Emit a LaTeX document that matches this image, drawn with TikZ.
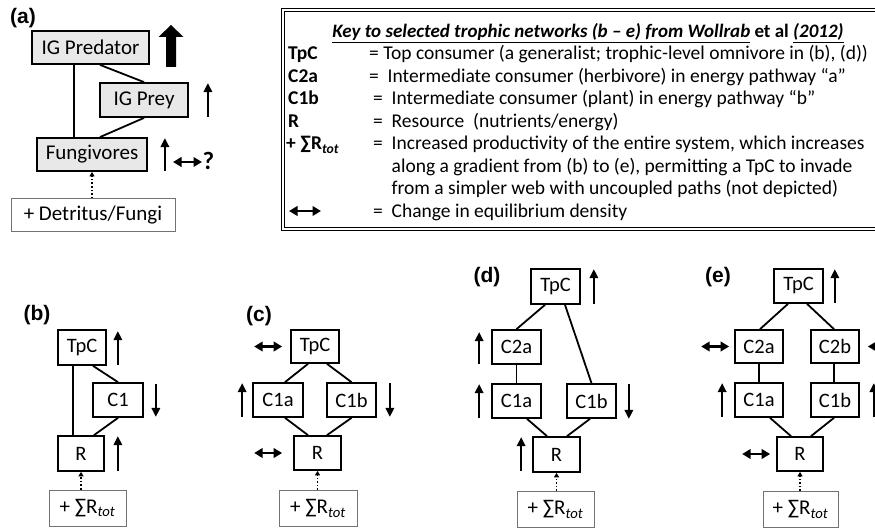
\documentclass[tikz,border=0pt]{standalone}
\usepackage{fontspec}
\setmainfont{Carlito}
\newfontfamily\panelfont{Liberation Sans}
\usetikzlibrary{arrows.meta}
\newcommand{\fsz}[1]{\fontsize{#1}{#1}\selectfont}
\newcommand{\sumR}{+ ∑R\textsubscript{\itshape tot}}
\newcommand{\sumRb}{\textbf{+ ∑R\textsubscript{\itshape tot}}}

\begin{document}
\begin{tikzpicture}[x=1pt,y=-1pt,
  gbox/.style={draw, line width=1.8pt, fill=black!9, inner sep=0pt, font=\fsz{21}},
  wbox/.style={draw, line width=1.7pt, fill=white, inner sep=0pt, minimum height=34pt, font=\fsz{20.5}},
  sbox/.style={draw=black!55, line width=1pt, fill=white, inner sep=0pt, minimum height=36pt, font=\fsz{21}},
  link/.style={line width=1.8pt},
  uparr/.style={line width=2pt, -{Triangle[width=8.5pt,length=9pt]}},
  dblarr/.style={line width=2.2pt, {Triangle[width=9.5pt,length=8.5pt]}-{Triangle[width=9.5pt,length=8.5pt]}},
  dotarr/.style={line width=1.6pt, dotted, -{Triangle[width=5pt,length=4.5pt]}},
  plabel/.style={font=\panelfont\bfseries\fsz{21}},
  keylab/.style={anchor=base west, inner sep=0pt, font=\bfseries\fsz{19.5}},
  keytxt/.style={anchor=base west, inner sep=0pt, font=\fsz{19.5}},
]
\useasboundingbox (0,0) rectangle (875,529);
\clip (0,0) rectangle (875,529);

% ---------------- panel (a): intraguild predation module ----------------
\node[plabel] (la) at (23,18) {(a)};
\node[gbox, minimum width=117pt, minimum height=33pt] (pred) at (90.5,47.5) {IG Predator};
\node[gbox, minimum width=88pt, minimum height=34pt] (prey) at (144,100) {IG Prey};
\node[gbox, minimum width=110pt, minimum height=33pt] (fung) at (92,154.5) {Fungivores};
\node[draw=black!55, line width=1pt, fill=white, inner sep=0pt, minimum width=164pt,
      minimum height=33pt, font=\fsz{21}] (detr) at (93,215.5) {+ Detritus/Fungi};

\draw[link] ([xshift=-16.5pt]pred.south) -- ([xshift=-16.5pt]pred.south |- fung.north);
\draw[link] ([xshift=9.5pt]pred.south) -- (prey.north);
\draw[link] (prey.south) -- ([xshift=8pt]fung.north);
\draw[dotarr] (fung.south |- detr.north) -- (fung.south);

% strong increase of the top predator
\fill (166,67) -- (176,67) -- (176,37) -- (183.5,37) -- (171,25) -- (158.5,37) -- (166,37) -- cycle;
\draw[uparr] ([xshift=19pt,yshift=1pt]prey.south east) -- ([xshift=19pt,yshift=-1pt]prey.north east);
\draw[uparr] ([xshift=17pt,yshift=1pt]fung.south east) -- ([xshift=17pt,yshift=-1pt]fung.north east);
\coordinate (fq1) at (173,162);
\coordinate (fq2) at (202,162);
\draw[dblarr] (fq1) -- (fq2);
\node[font=\bfseries\fsz{25}, inner sep=0pt] (qm) at (208.5,161) {?};

% ---------------- key ----------------
\draw[line width=0.9pt, double=white, double distance=1.4pt] (283,10) rectangle (900,229);
\node[anchor=base, inner sep=0pt, font=\fsz{19}] (ktitle) at (588,37.5)
  {\underline{\textbf{\textit{Key to selected trophic networks (b – e) from Wollrab}}} \textbf{et al} \underline{\textbf{\textit{(2012)}}}};
\node[keylab] (k1) at (288,60) {TpC};
\node[keytxt] (d1) at (369,60) {= Top consumer (a generalist; trophic-level omnivore in (b), (d))};
\node[keylab] (k2) at (288,82.5) {C2a};
\node[keytxt] (d2) at (369,82.5) {=\ \ Intermediate consumer (herbivore) in energy pathway “a”};
\node[keylab] (k3) at (288,105) {C1b};
\node[keytxt] (d3) at (373,105) {=\ \ Intermediate consumer (plant) in energy pathway “b”};
\node[keylab] (k4) at (288,127.5) {R};
\node[keytxt] (d4) at (373,127.5) {=\ \ Resource\ \ (nutrients/energy)};
\node[keylab] (k5) at (286,150) {\sumRb};
\node[keytxt] (d5) at (373,150) {=\ \ Increased productivity of the entire system, which increases};
\node[keytxt] (d6) at (373,172.5) {\phantom{=\ \ }along a gradient from (b) to (e), permitting a TpC to invade};
\node[keytxt] (d7) at (373,195) {\phantom{=\ \ }from a simpler web with uncoupled paths (not depicted)};
\coordinate (kd1) at (289,211);
\coordinate (kd2) at (321,211);
\draw[dblarr] (kd1) -- (kd2);
\node[keytxt] (d8) at (373,217.5) {=\ \ Change in equilibrium density};

% ---------------- panel (b) ----------------
\node[plabel] (lb) at (37,315) {(b)};
\node[wbox, minimum width=48pt, minimum height=35pt] (bT) at (82,347.5) {TpC};
\node[wbox, minimum width=50pt] (bC) at (118,400) {C1};
\node[wbox, minimum width=46pt, minimum height=35pt] (bR) at (81,453.5) {R};
\node[sbox, minimum width=77pt] (bS) at (87.5,508) {\sumR};
\draw[link] ([xshift=-9pt]bT.south) -- ([xshift=-9pt]bT.south |- bR.north);
\draw[link] ([xshift=11pt]bT.south) -- (bC.north);
\draw[link] (bC.south) -- ([xshift=13pt]bR.north);
\draw[dotarr] (bR.south |- bS.north) -- (bR.south);
\draw[uparr] ([xshift=11pt,yshift=1pt]bT.south east) -- ([xshift=11pt,yshift=-2pt]bT.north east);
\draw[uparr] ([xshift=12pt,yshift=-2pt]bC.north east) -- ([xshift=12pt,yshift=1pt]bC.south east);
\draw[uparr] ([xshift=13pt,yshift=1pt]bR.south east) -- ([xshift=13pt,yshift=-1pt]bR.north east);

% ---------------- panel (c) ----------------
\node[plabel] (lc) at (259,316) {(c)};
\node[wbox, minimum width=48pt, minimum height=33pt] (cT) at (315,346.5) {TpC};
\node[wbox, minimum width=50pt] (cA) at (278,400) {C1a};
\node[wbox, minimum width=49pt] (cB) at (351.5,400) {C1b};
\node[wbox, minimum width=47pt] (cR) at (317.5,453) {R};
\node[sbox, minimum width=78pt] (cS) at (318,508.5) {\sumR};
\draw[link] ([xshift=-7pt]cT.south) -- ([xshift=7pt]cA.north);
\draw[link] ([xshift=12pt]cT.south) -- (cB.north);
\draw[link] ([xshift=7pt]cA.south) -- ([xshift=-9.5pt]cR.north);
\draw[link] (cB.south) -- ([xshift=9.5pt]cR.north);
\draw[dotarr] (cR.south |- cS.north) -- (cR.south);
\draw[dblarr] ([xshift=-36pt]cT.west) -- ([xshift=-8pt]cT.west);
\draw[uparr] ([xshift=-10pt,yshift=1pt]cA.south west) -- ([xshift=-10pt,yshift=-1pt]cA.north west);
\draw[uparr] ([xshift=13pt,yshift=-1pt]cB.north east) -- ([xshift=13pt,yshift=1pt]cB.south east);
\draw[dblarr] ([xshift=-39pt]cR.west) -- ([xshift=-11pt]cR.west);

% ---------------- panel (d) ----------------
\node[plabel] (ld) at (487,277) {(d)};
\node[wbox, minimum width=49pt, minimum height=35pt] (dT) at (555.5,286.5) {TpC};
\node[wbox, minimum width=49pt] (dA2) at (516.5,347) {C2a};
\node[wbox, minimum width=49pt] (dA) at (516.5,401) {C1a};
\node[wbox, minimum width=49pt] (dB) at (591.5,401) {C1b};
\node[wbox, minimum width=47pt, minimum height=35pt] (dR) at (556.5,454.5) {R};
\node[sbox, minimum width=77pt] (dS) at (555.5,509.5) {\sumR};
\draw[link] ([xshift=-10.5pt]dT.south) -- (dA2.north);
\draw[link] ([xshift=9.5pt]dT.south) -- (dB.north);
\draw[link] (dA2.south) -- (dA.north);
\draw[link] ([xshift=10.5pt]dA.south) -- ([xshift=-9.5pt]dR.north);
\draw[link] ([xshift=-1.5pt]dB.south) -- ([xshift=10.5pt]dR.north);
\draw[dotarr] (dR.south |- dS.north) -- (dR.south);
\draw[uparr] ([xshift=13pt,yshift=1pt]dT.south east) -- ([xshift=13pt,yshift=-1pt]dT.north east);
\draw[uparr] ([xshift=-12pt,yshift=1pt]dA2.south west) -- ([xshift=-12pt,yshift=-3pt]dA2.north west);
\draw[uparr] ([xshift=-12pt,yshift=1pt]dA.south west) -- ([xshift=-12pt,yshift=-1pt]dA.north west);
\draw[uparr] ([xshift=12pt,yshift=-1pt]dB.north east) -- ([xshift=12pt,yshift=0pt]dB.south east);
\draw[uparr] ([xshift=-11pt,yshift=2pt]dR.south west) -- ([xshift=-11pt,yshift=-1pt]dR.north west);

% ---------------- panel (e) ----------------
\node[plabel] (le) at (718,277) {(e)};
\node[wbox, minimum width=49pt] (eT) at (798.5,286) {TpC};
\node[wbox, minimum width=48pt, minimum height=33pt] (eA2) at (759,346.5) {C2a};
\node[wbox, minimum width=48pt, minimum height=33pt] (eB2) at (835,346.5) {C2b};
\node[wbox, minimum width=48pt] (eA) at (759,400) {C1a};
\node[wbox, minimum width=48pt] (eB) at (835,400) {C1b};
\node[wbox, minimum width=46pt] (eR) at (800,454) {R};
\node[sbox, minimum width=75pt] (eS) at (800.5,509.5) {\sumR};
\draw[link] ([xshift=-10.5pt]eT.south) -- ([xshift=1pt]eA2.north);
\draw[link] ([xshift=8.5pt]eT.south) -- ([xshift=-1pt]eB2.north);
\draw[link] (eA2.south) -- (eA.north);
\draw[link] ([xshift=-1pt]eB2.south) -- ([xshift=-1pt]eB.north);
\draw[link] ([xshift=11pt]eA.south) -- ([xshift=-9pt]eR.north);
\draw[link] ([xshift=-1pt]eB.south) -- ([xshift=11pt]eR.north);
\draw[dotarr] (eR.south |- eS.north) -- (eR.south);
\draw[uparr] ([xshift=11pt,yshift=1pt]eT.south east) -- ([xshift=11pt,yshift=-1pt]eT.north east);
\draw[dblarr] ([xshift=-33pt]eA2.west) -- ([xshift=-5pt]eA2.west);
\draw[dblarr] ([xshift=8pt]eB2.east) -- ([xshift=36pt]eB2.east);
\draw[uparr] ([xshift=-12pt,yshift=1pt]eA.south west) -- ([xshift=-12pt,yshift=-1pt]eA.north west);
\draw[uparr] ([xshift=14pt,yshift=1pt]eB.south east) -- ([xshift=14pt,yshift=-1pt]eB.north east);
\draw[dblarr] ([xshift=-34pt]eR.west) -- ([xshift=-6pt]eR.west);
\end{tikzpicture}
\end{document}
